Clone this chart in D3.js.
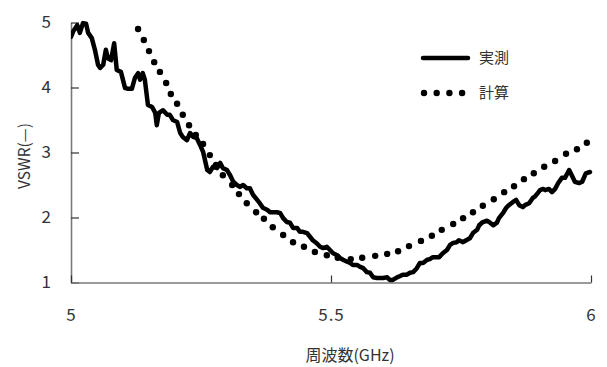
<!DOCTYPE html>
<html>
<head>
<meta charset="utf-8">
<script src="https://cdn.jsdelivr.net/npm/d3@7"></script>
<style>
  html, body { margin: 0; padding: 0; background: #fff; }
  svg { display: block; }
  text { font-family: "Noto Sans CJK JP", "Noto Sans", sans-serif; fill: #333; }
</style>
</head>
<body>
<svg id="chart" width="607" height="367"></svg>
<script>
// ---- Data ----
const seriesNames = ["実測", "計算"];
const xTicks = [5, 5.5, 6];
const xTickLabels = ["5", "5.5", "6"];
const yTicks = [1, 2, 3, 4, 5];
const yTickLabels = ["1", "2", "3", "4", "5"];

// measured (実測)
const measFreq = [5.000,5.004,5.012,5.017,5.023,5.029,5.033,5.040,5.046,5.052,5.056,5.062,5.067,5.071,5.077,5.083,5.088,5.096,5.104,5.110,5.117,5.123,5.129,5.133,5.138,5.142,5.148,5.156,5.162,5.165,5.169,5.177,5.185,5.190,5.196,5.204,5.210,5.215,5.223,5.229,5.235,5.242,5.248,5.254,5.262,5.267,5.273,5.281,5.287,5.292,5.300,5.306,5.312,5.319,5.325,5.331,5.338,5.344,5.350,5.358,5.363,5.369,5.377,5.383,5.388,5.396,5.402,5.408,5.415,5.421,5.427,5.435,5.440,5.446,5.454,5.460,5.465,5.473,5.479,5.485,5.492,5.498,5.504,5.512,5.517,5.523,5.531,5.537,5.542,5.550,5.556,5.562,5.569,5.575,5.581,5.588,5.594,5.600,5.608,5.613,5.619,5.627,5.633,5.638,5.646,5.652,5.658,5.665,5.671,5.677,5.685,5.690,5.696,5.704,5.708,5.715,5.723,5.729,5.735,5.742,5.746,5.754,5.760,5.767,5.773,5.781,5.785,5.792,5.800,5.806,5.812,5.819,5.823,5.831,5.837,5.842,5.850,5.856,5.862,5.869,5.873,5.881,5.888,5.892,5.898,5.902,5.908,5.912,5.919,5.925,5.931,5.937,5.944,5.950,5.958,5.963,5.969,5.977,5.983,5.990,5.998];
const measVswr = [4.78,4.86,4.96,4.84,4.99,4.98,4.84,4.76,4.58,4.35,4.30,4.35,4.58,4.45,4.42,4.68,4.27,4.24,3.99,3.98,3.98,4.15,4.22,4.12,4.22,4.12,3.73,3.70,3.61,3.42,3.61,3.65,3.58,3.58,3.50,3.47,3.30,3.24,3.19,3.30,3.24,3.22,3.12,3.01,2.73,2.70,2.78,2.76,2.84,2.76,2.73,2.65,2.55,2.50,2.47,2.50,2.45,2.45,2.35,2.27,2.22,2.15,2.12,2.08,2.08,2.08,2.07,1.99,1.93,1.92,1.84,1.84,1.78,1.78,1.76,1.70,1.65,1.60,1.55,1.53,1.55,1.50,1.45,1.42,1.38,1.35,1.32,1.30,1.27,1.27,1.24,1.22,1.16,1.15,1.08,1.07,1.07,1.07,1.08,1.04,1.04,1.08,1.10,1.12,1.12,1.15,1.16,1.22,1.30,1.30,1.35,1.36,1.39,1.39,1.39,1.45,1.50,1.58,1.61,1.62,1.65,1.62,1.65,1.68,1.76,1.81,1.88,1.93,1.95,1.92,1.88,1.92,1.99,2.07,2.15,2.19,2.24,2.27,2.19,2.16,2.19,2.22,2.30,2.32,2.38,2.42,2.44,2.42,2.44,2.39,2.44,2.53,2.61,2.61,2.73,2.65,2.55,2.53,2.55,2.68,2.70];

// calculated (計算)
const calcFreq = [5.129,5.140,5.150,5.160,5.171,5.183,5.192,5.204,5.215,5.227,5.240,5.254,5.267,5.279,5.292,5.310,5.323,5.338,5.356,5.371,5.388,5.408,5.427,5.448,5.469,5.492,5.513,5.538,5.560,5.585,5.608,5.629,5.650,5.673,5.694,5.713,5.735,5.754,5.773,5.792,5.813,5.833,5.852,5.871,5.890,5.910,5.931,5.952,5.973,5.992];
const calcVswr = [4.90,4.73,4.56,4.39,4.24,4.07,3.90,3.75,3.58,3.42,3.27,3.13,2.96,2.81,2.65,2.50,2.36,2.22,2.08,1.98,1.85,1.73,1.62,1.55,1.47,1.42,1.38,1.36,1.38,1.41,1.44,1.48,1.56,1.64,1.72,1.81,1.90,1.99,2.08,2.18,2.28,2.39,2.48,2.59,2.68,2.78,2.87,2.98,3.05,3.15];

// ---- Chart ----
const svg = d3.select("#chart");
const x = d3.scaleLinear().domain([5, 6]).range([71, 591]);
const y = d3.scaleLinear().domain([1, 5]).range([282.5, 22.5]);

const measured = measFreq.map((f, i) => ({ f, v: measVswr[i] }));
const calculated = calcFreq.map((f, i) => ({ f, v: calcVswr[i] }));

// axes
const yAxis = d3.axisLeft(y).tickValues(yTicks)
  .tickFormat((d, i) => yTickLabels[i])
  .tickSizeInner(-8).tickSizeOuter(0).tickPadding(19);
const xAxis = d3.axisBottom(x).tickValues(xTicks)
  .tickFormat((d, i) => xTickLabels[i])
  .tickSizeInner(-7).tickSizeOuter(0).tickPadding(26);

const gy = svg.append("g").attr("transform", "translate(71,0)").call(yAxis);
const gx = svg.append("g").attr("transform", "translate(0,282.5)").call(xAxis);
[gx, gy].forEach(g => {
  g.select(".domain").attr("stroke", "#7a7a7a").attr("stroke-width", 1.6);
  g.selectAll(".tick line").attr("stroke", "#333").attr("stroke-width", 1.2);
  g.selectAll(".tick text").attr("font-size", 17).attr("fill", "#333")
    .style("font-family", '"Noto Sans CJK JP", sans-serif').attr("letter-spacing", 1);
});

// clip
svg.append("clipPath").attr("id", "plotclip").append("rect")
  .attr("x", 71).attr("y", 20).attr("width", 522).attr("height", 265);

const plot = svg.append("g").attr("clip-path", "url(#plotclip)");

const line = d3.line().x(d => x(d.f)).y(d => y(d.v)).curve(d3.curveLinear);
plot.append("path").datum(measured)
  .attr("d", line).attr("fill", "none").attr("stroke", "#000")
  .attr("stroke-width", 4.5).attr("stroke-linejoin", "round").attr("stroke-linecap", "round");

plot.selectAll("circle.calc").data(calculated).enter().append("circle")
  .attr("class", "calc")
  .attr("cx", d => x(d.f)).attr("cy", d => y(d.v)).attr("r", 3.2).attr("fill", "#000");

// axis titles
svg.append("text").attr("x", 350).attr("y", 361).attr("text-anchor", "middle")
  .attr("font-size", 16).text("周波数(GHz)");
svg.append("text").attr("transform", "translate(30,156) rotate(-90)")
  .attr("text-anchor", "middle").attr("font-size", 15.5).text("VSWR(—)");

// legend
const lg = svg.append("g");
lg.append("line").attr("x1", 423).attr("x2", 468).attr("y1", 58).attr("y2", 58)
  .attr("stroke", "#000").attr("stroke-width", 4.5).attr("stroke-linecap", "round");
lg.selectAll("circle.ld").data([0, 1, 2, 3]).enter().append("circle")
  .attr("class", "ld").attr("cx", d => 424 + d * 12.7).attr("cy", 93).attr("r", 3.2).attr("fill", "#000");
lg.append("text").attr("x", 479).attr("y", 58).attr("dy", "0.35em").attr("font-size", 15).text(seriesNames[0]);
lg.append("text").attr("x", 479).attr("y", 93).attr("dy", "0.35em").attr("font-size", 15).text(seriesNames[1]);
</script>
</body>
</html>
